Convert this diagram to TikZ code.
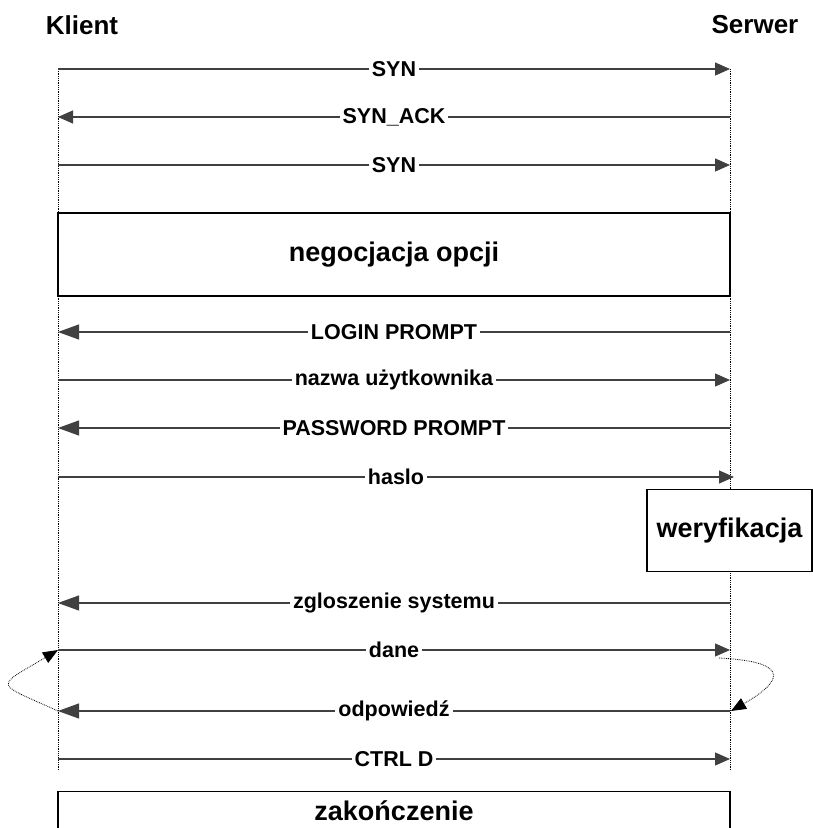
\documentclass[tikz,border=0pt]{standalone}
\usepackage{fontspec}
\setmainfont{Liberation Sans}
\usetikzlibrary{arrows.meta}

\begin{document}
\begin{tikzpicture}[x=1pt,y=-1pt,
  every node/.style={font=\bfseries},
  actor/.style={font=\fontsize{26}{30}\selectfont\bfseries},
  lifeline/.style={densely dotted,line width=0.8pt,black},
  msg/.style={line width=1.1pt,draw=black!75},
  tipsmall/.style={-{Triangle[length=15pt,width=13pt]}},
  tipbig/.style={-{Triangle[length=21pt,width=15pt]}},
  lbl/.style={fill=white,inner xsep=3pt,inner ysep=1pt,
    font=\fontsize{21.5}{25}\selectfont\bfseries},
  phase/.style={draw=black,line width=1.2pt,fill=white,
    font=\fontsize{27}{32}\selectfont\bfseries},
  loopline/.style={densely dotted,line width=0.8pt,black,
    -{Triangle[length=15pt,width=12pt]}}]

\clip (0,0) rectangle (813,828);
\fill[white] (0,0) rectangle (813,828);

% actors
\node[actor] (kl) at (82,25) {Klient};
\node[actor] (sv) at (755,25) {Serwer};

% lifelines
\coordinate (ktop) at (58,69);
\coordinate (kbot) at (58,770);
\coordinate (stop) at (730,69);
\coordinate (sbot) at (730,770);
\draw[lifeline] (ktop) -- (kbot);
\draw[lifeline] (stop) -- (sbot);

% message end points on both lifelines
\foreach \n/\y in {1/69,2/117,3/165,4/332,5/380,6/428,7/477,8/603,9/650,10/711,11/759}{
  \coordinate (k\n) at (58,\y);
  \coordinate (s\n) at (730,\y);
}
\coordinate (s7t) at (734,477);

% handshake
\draw[msg,tipsmall] (k1) -- node[lbl] {SYN} (s1);
\draw[msg,tipsmall] (s2) -- node[lbl] {SYN\_ACK} (k2);
\draw[msg,tipsmall] (k3) -- node[lbl] {SYN} (s3);

% option negotiation
\node[phase,minimum width=672pt,minimum height=83pt] (neg) at (394,254.5) {negocjacja opcji};

% login
\draw[msg,tipbig] (s4) -- node[lbl] {LOGIN PROMPT} (k4);
\draw[msg,tipsmall] (k5) -- node[lbl] {nazwa użytkownika} (s5);
\draw[msg,tipbig] (s6) -- node[lbl] {PASSWORD PROMPT} (k6);
\draw[msg,tipsmall] (k7) -- node[lbl] {haslo} (s7t);

% verification
\node[phase,minimum width=165pt,minimum height=82pt] (wer) at (729.5,530.5) {weryfikacja};

% session
\draw[msg,tipbig] (s8) -- node[lbl] {zgloszenie systemu} (k8);
\draw[msg,tipsmall] (k9) -- node[lbl] {dane} (s9);
\draw[msg,tipbig] (s10) -- node[lbl] {odpowiedź} (k10);
\draw[msg,tipsmall] (k11) -- node[lbl] {CTRL D} (s11);

% repetition loops
\coordinate (s9b) at (719,658);
\coordinate (s10t) at (731,711);
\draw[loopline] (k10) .. controls (-6,682) and (-6,688) .. (k9);
\draw[loopline] (s9b) .. controls (780,661) and (792,676) .. (s10t);

% termination
\node[phase,minimum width=672pt,minimum height=60pt,anchor=north] (end) at (394,791) {};
\node[font=\fontsize{27}{32}\selectfont\bfseries] (endl) at (394,811) {zakończenie};

\end{tikzpicture}
\end{document}
